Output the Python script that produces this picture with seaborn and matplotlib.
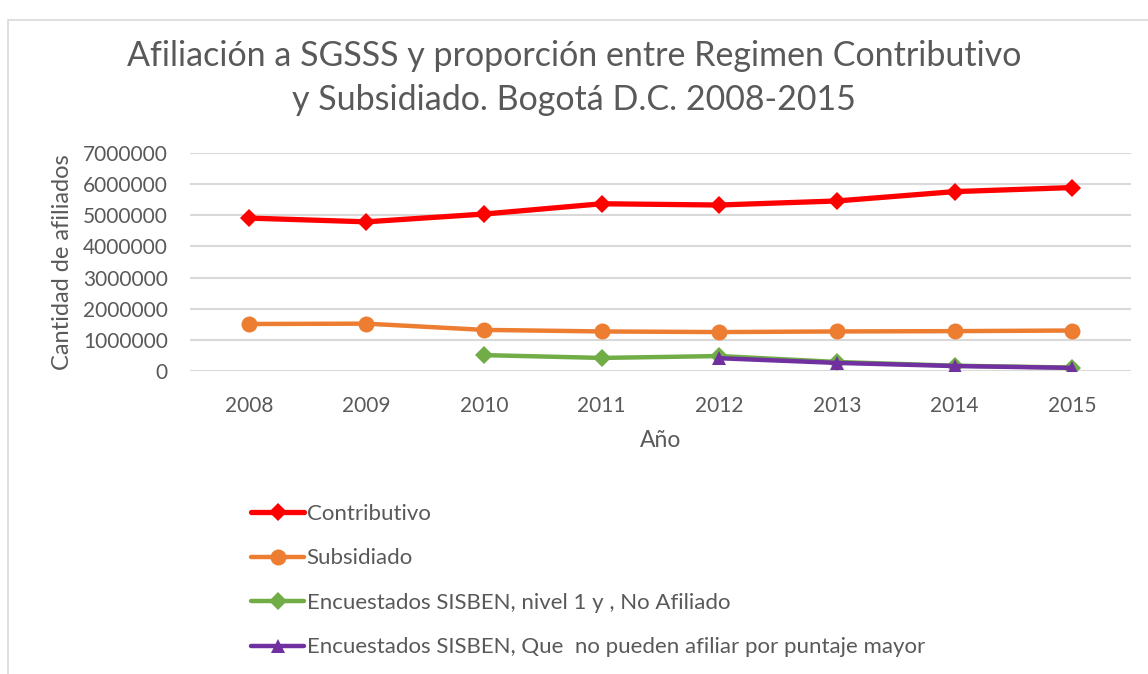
import matplotlib
matplotlib.use("Agg")
import matplotlib.pyplot as plt
import matplotlib.patches as mpatches
import pandas as pd
import seaborn as sns

years = [2008, 2009, 2010, 2011, 2012, 2013, 2014, 2015]
contributivo = [4910000, 4790000, 5040000, 5370000, 5330000, 5460000, 5760000, 5890000]
subsidiado = [1510000, 1520000, 1320000, 1270000, 1250000, 1270000, 1280000, 1300000]
years_nivel1 = [2010, 2011, 2012, 2013, 2014, 2015]
nivel1_no_afiliado = [510000, 420000, 480000, 290000, 170000, 110000]
years_puntaje = [2012, 2013, 2014, 2015]
puntaje_mayor = [410000, 260000, 160000, 100000]

labels = [
    "Contributivo",
    "Subsidiado",
    "Encuestados SISBEN, nivel 1 y , No Afiliado",
    "Encuestados SISBEN, Que  no pueden afiliar por puntaje mayor",
]
colors = ["#FF0000", "#ED7D31", "#70AD47", "#7030A0"]
markers = ["D", "o", "D", "^"]
sizes = [9.5, 11.5, 9.5, 10.5]
widths = [3.8, 3.2, 3.2, 3.2]

series = [
    (years, contributivo),
    (years, subsidiado),
    (years_nivel1, nivel1_no_afiliado),
    (years_puntaje, puntaje_mayor),
]

sns.set_style("white")
plt.rcParams["font.family"] = ["Lato", "DejaVu Sans"]
text_color = "#595959"

fig = plt.figure(figsize=(11.48, 6.74), dpi=100)
ax = fig.add_axes([190 / 1148, 1 - 371 / 674, (1131 - 190) / 1148, (371 - 153) / 674])

for (xs, ys), lab, col, mk, ms, lw in zip(series, labels, colors, markers, sizes, widths):
    df = pd.DataFrame({"year": xs, "value": ys})
    sns.lineplot(data=df, x="year", y="value", ax=ax, color=col, marker=mk,
                 markersize=ms, markeredgewidth=0, linewidth=lw, label=lab)

ax.set_xlim(2007.5, 2015.5)
ax.set_ylim(0, 7000000)
ax.set_xticks(years)
ax.set_yticks(range(0, 7000001, 1000000))
ax.set_yticklabels([str(v) for v in range(0, 7000001, 1000000)])
ax.tick_params(axis="both", length=0, labelsize=15, colors=text_color)
ax.tick_params(axis="x", pad=18)
ax.tick_params(axis="y", pad=16)
ax.grid(axis="y", color="#D9D9D9", linewidth=1.5)
ax.set_axisbelow(True)
for s in ax.spines.values():
    s.set_visible(False)

ax.set_xlabel("Año", fontsize=16.5, color=text_color, labelpad=10)
ax.set_ylabel("Cantidad de afiliados", fontsize=17, color=text_color, labelpad=7)

fig.suptitle("Afiliación a SGSSS y proporción entre Regimen Contributivo\ny Subsidiado. Bogotá D.C. 2008-2015",
             y=1 - 40 / 674, fontsize=24.5, color=text_color, linespacing=1.45, va="top")

handles, lbls = ax.get_legend_handles_labels()
ax.get_legend().remove()
leg = fig.legend(handles, lbls, loc="upper left", bbox_to_anchor=(231 / 1148, 1 - 484 / 674),
                 frameon=False, fontsize=16, handlelength=2.4, handletextpad=0.1,
                 labelspacing=1.1, labelcolor=text_color)

# chart area border
fig.patches.append(mpatches.Rectangle((8 / 1148, -0.05), 1.1, 1 - 20 / 674 + 0.05,
                                      transform=fig.transFigure, fill=False,
                                      edgecolor="#D9D9D9", linewidth=1.2))

fig.savefig("out.png", dpi=100)
